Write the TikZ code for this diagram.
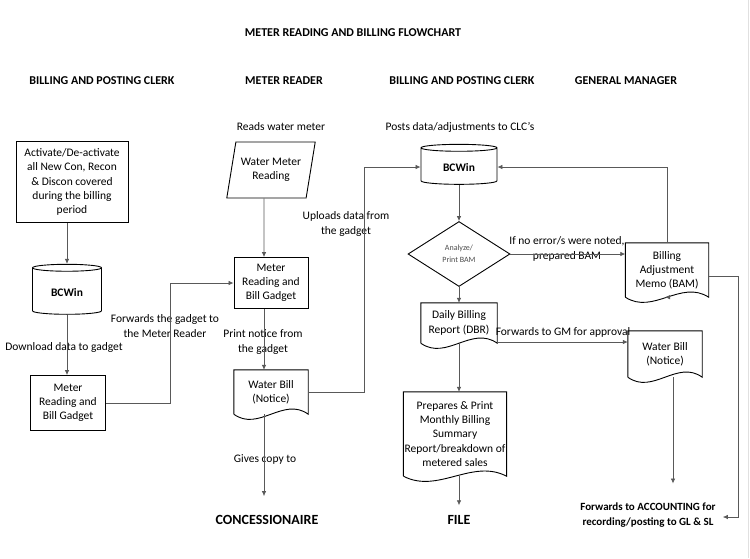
\documentclass[tikz,border=0pt]{standalone}
\usepackage{fontspec}
\setmainfont{Carlito}
\usepackage{tikz}
\usetikzlibrary{shapes.geometric,arrows.meta,calc}

\newcommand{\bodyfont}{\fontsize{11.5}{14.2}\selectfont}
\newcommand{\headfont}{\fontsize{12}{14}\selectfont\bfseries}
\newcommand{\bigfont}{\fontsize{14}{16}\selectfont\bfseries}
\newcommand{\notefont}{\fontsize{11}{15}\selectfont\bfseries}
\newcommand{\tinyfont}{\fontsize{8}{12}\selectfont}

% outline of a document symbol round a plain node
\newcommand{\docoutline}[1]{%
  \draw[boxline] (#1.south west) -- (#1.north west) -- (#1.north east) -- (#1.south east)
    .. controls ($(#1.south east)!0.333!(#1.south west)+(0,-18)$)
    and ($(#1.south east)!0.667!(#1.south west)+(0,18)$) .. (#1.south west);}

\tikzset{
  boxline/.style={draw=black, line width=0.9pt},
  procbox/.style={rectangle, boxline, align=center, font=\bodyfont, inner sep=2pt},
  docnode/.style={rectangle, align=center, font=\bodyfont, inner sep=1pt},
  dbase/.style={cylinder, shape border rotate=90, aspect=0.18, boxline,
    font=\bodyfont\bfseries},
  inputbox/.style={trapezium, trapezium left angle=74, trapezium right angle=106,
    trapezium stretches=true, boxline, align=center, font=\bodyfont},
  decide/.style={diamond, boxline, align=center, font=\tinyfont, text=black!70,
    inner sep=0pt},
  lbl/.style={align=center, font=\bodyfont, inner sep=1pt},
  conn/.style={draw=black!65, line width=0.7pt, -{Latex[length=5pt,width=4.5pt]}}
}

\begin{document}
\begin{tikzpicture}[x=1pt,y=-1pt]
  \useasboundingbox (0,0) rectangle (750,558);
  \draw[black!12] (748,0) -- (748,558);

  % title and lanes
  \node[lbl, font=\headfont] (title) at (353,33) {METER READING AND BILLING FLOWCHART};
  \node[lbl, font=\headfont] (lane1) at (102,81) {BILLING AND POSTING CLERK};
  \node[lbl, font=\headfont] (lane2) at (284,81) {METER READER};
  \node[lbl, font=\headfont] (lane3) at (462,81) {BILLING AND POSTING CLERK};
  \node[lbl, font=\headfont] (lane4) at (626,81) {GENERAL MANAGER};

  % billing and posting clerk
  \node[procbox, minimum width=112pt, minimum height=81pt] (activate) at (72,182)
    {Activate/De-activate\\all New Con, Recon\\\& Discon covered\\during the billing\\period};
  \node[dbase, minimum width=69pt, minimum height=50pt] (bcwin1) at (67,292) {BCWin};
  \node[procbox, minimum width=75pt, minimum height=55pt] (gadget1) at (68,403)
    {Meter\\Reading and\\Bill Gadget};
  \node[lbl] (ldownload) at (64,347) {Download data to gadget};
  \node[lbl] (lforward) at (165,326) {Forwards the gadget to\\the Meter Reader};

  % meter reader
  \node[lbl] (lreads) at (281,127) {Reads water meter};
  \node[inputbox, minimum width=89pt, minimum height=56pt] (reading) at (271,170)
    {Water Meter\\Reading};
  \node[procbox, minimum width=74pt, minimum height=51pt] (gadget2) at (271,283)
    {Meter\\Reading and\\Bill Gadget};
  \node[docnode, minimum width=74pt, minimum height=44pt] (bill1) at (271,392)
    {Water Bill\\(Notice)};
  \docoutline{bill1}
  \node[lbl] (lprint) at (263,342) {Print notice from\\the gadget};
  \node[lbl] (lupload) at (346,224) {Uploads data from\\the gadget};
  \node[lbl] (lgives) at (265,459) {Gives copy to};
  \node[lbl, font=\bigfont] (consumer) at (267,520) {CONCESSIONAIRE};

  % billing and posting clerk
  \node[lbl] (lposts) at (460,127) {Posts data/adjustments to CLC's};
  \node[dbase, minimum width=76pt, minimum height=40pt] (bcwin2) at (459,167) {BCWin};
  \node[decide, minimum width=102pt, minimum height=65pt] (analyze) at (459,254)
    {Analyze/\\Print BAM};
  \node[docnode, minimum width=76pt, minimum height=40pt] (dbr) at (459,323)
    {Daily Billing\\Report (DBR)};
  \docoutline{dbr}
  \node[docnode, minimum width=96pt, minimum height=84pt] (summary) at (455,434)
    {Prepares \& Print\\Monthly Billing\\Summary\\Report/breakdown of\\metered sales};
  \docoutline{summary}
  \node[lbl, font=\bigfont] (file) at (459,520) {FILE};

  % general manager
  \node[docnode, minimum width=83pt, minimum height=54pt] (bam) at (667,270)
    {Billing\\Adjustment\\Memo (BAM)};
  \docoutline{bam}
  \node[docnode, minimum width=74pt, minimum height=46pt] (bill2) at (665,354)
    {Water Bill\\(Notice)};
  \docoutline{bill2}
  \node[lbl] (lnoerror) at (567,249) {If no error/s were noted,\\prepared BAM};
  \node[lbl] (lgm) at (563,332) {Forwards to GM for approval};
  \node[lbl, font=\notefont] (account) at (648,515)
    {Forwards to ACCOUNTING for\\recording/posting to GL \& SL};

  % connectors
  \draw[conn] (bcwin1.north |- activate.south) -- (bcwin1.north);
  \draw[conn] (bcwin1.south) -- (bcwin1.south |- gadget1.north);
  \draw[conn] (gadget1.east) -- ++(64,0) |- (gadget2.west);
  \draw[conn] ([xshift=-7pt]reading.south) -- ([xshift=-7pt]gadget2.north);
  \draw[conn] ([xshift=-7pt]gadget2.south) -- ([xshift=-7pt]bill1.north);
  \draw[conn, shorten >=18pt] ([xshift=-7pt]bill1.south) -- ([xshift=-3pt]consumer.north);
  \draw[conn] (bill1.east) -- ++(56,0) |- (bcwin2.west);
  \draw[conn] (bcwin2.south) -- (analyze.north);
  \draw[conn] (analyze.south) -- (dbr.north);
  \draw[conn] (dbr.south) -- (dbr.south |- summary.north);
  \draw[conn, shorten >=9pt] (dbr.south |- summary.south) -- (file.north);
  \draw[conn] (analyze.east) -- (analyze.east -| bam.west);
  \draw[conn] (bam.north) |- (bcwin2.east);
  \draw[conn] (bam.south) -- (bam.south -| bill2.north);
  \draw[conn] ([yshift=-19pt]dbr.east) -- ([yshift=-19pt]dbr.east -| bill2.west);
  \draw[conn, shorten >=18pt] ([xshift=8pt]bill2.south) -- ([xshift=8pt]bill2.south |- account.north);
  \draw[conn] ([yshift=-6pt]bam.east) -- ++(30,0) |- ([xshift=6pt,yshift=-2pt]account.east);
\end{tikzpicture}
\end{document}
